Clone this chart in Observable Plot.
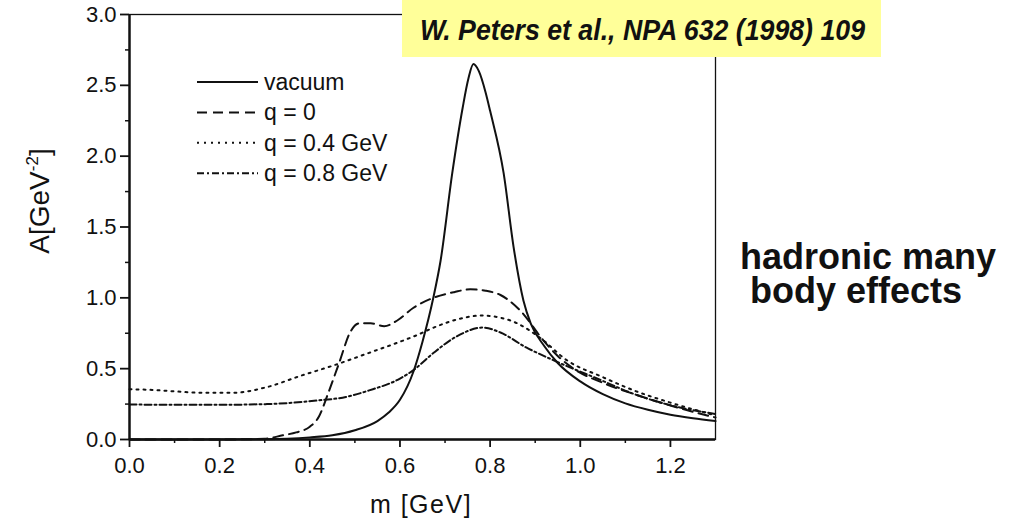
<!DOCTYPE html>
<html><head><meta charset="utf-8">
<script src="https://cdn.jsdelivr.net/npm/d3@7"></script>
<script src="https://cdn.jsdelivr.net/npm/@observablehq/plot@0.6"></script>
<style>
body{margin:0;background:#fff;}
#wrap{position:relative;width:1029px;height:524px;overflow:hidden;font-family:"Liberation Sans",Arial,sans-serif;color:#111;}
#wrap > svg{position:absolute;left:0;top:0;}
.ov{position:absolute;white-space:pre;}
</style></head>
<body><div id="wrap"></div>
<script>
// ---- data ----
const seriesNames = ["vacuum", "q = 0", "q = 0.4 GeV", "q = 0.8 GeV"];

const vacuumM = [0, 0.1, 0.2, 0.3, 0.35, 0.4, 0.45, 0.5, 0.55, 0.575, 0.6, 0.63, 0.65, 0.674, 0.69, 0.716, 0.739, 0.752, 0.763, 0.775, 0.79, 0.80, 0.83, 0.852, 0.874, 0.89, 0.92, 0.95, 1.0, 1.05, 1.1, 1.15, 1.2, 1.25, 1.3];
const vacuumA = [0, 0, 0, 0.002, 0.006, 0.015, 0.03, 0.065, 0.13, 0.19, 0.28, 0.48, 0.69, 1.0, 1.26, 1.88, 2.34, 2.55, 2.65, 2.60, 2.45, 2.32, 1.88, 1.36, 0.98, 0.82, 0.66, 0.54, 0.41, 0.32, 0.255, 0.21, 0.175, 0.15, 0.13];

const q0M = [0, 0.2, 0.3, 0.34, 0.37, 0.40, 0.42, 0.44, 0.465, 0.49, 0.51, 0.535, 0.565, 0.594, 0.63, 0.674, 0.72, 0.756, 0.79, 0.823, 0.867, 0.918, 0.95, 0.985, 1.05, 1.12, 1.2, 1.3];
const q0A = [0, 0, 0.005, 0.03, 0.05, 0.09, 0.16, 0.32, 0.54, 0.76, 0.82, 0.82, 0.80, 0.84, 0.93, 1.0, 1.04, 1.06, 1.05, 1.02, 0.91, 0.70, 0.59, 0.50, 0.40, 0.32, 0.24, 0.155];

const q04M = [0, 0.05, 0.1, 0.157, 0.23, 0.305, 0.38, 0.45, 0.53, 0.60, 0.64, 0.675, 0.73, 0.78, 0.845, 0.91, 0.97, 1.05, 1.12, 1.2, 1.3];
const q04A = [0.355, 0.35, 0.34, 0.33, 0.33, 0.37, 0.45, 0.52, 0.61, 0.69, 0.74, 0.79, 0.85, 0.875, 0.84, 0.72, 0.56, 0.44, 0.345, 0.26, 0.17];

const q08M = [0, 0.1, 0.2, 0.305, 0.415, 0.48, 0.53, 0.60, 0.63, 0.674, 0.727, 0.783, 0.823, 0.88, 0.94, 1.045, 1.12, 1.19, 1.3];
const q08A = [0.247, 0.245, 0.245, 0.25, 0.275, 0.30, 0.345, 0.43, 0.49, 0.61, 0.73, 0.79, 0.755, 0.65, 0.56, 0.42, 0.32, 0.25, 0.18];

const xTicks = [0, 0.2, 0.4, 0.6, 0.8, 1.0, 1.2];
const xMinorTicks = [0.1, 0.3, 0.5, 0.7, 0.9, 1.1];
const yTicks = [0, 0.5, 1.0, 1.5, 2.0, 2.5, 3.0];
const yMinorTicks = [0.25, 0.75, 1.25, 1.75, 2.25, 2.75];

const citation = "W. Peters et al., NPA 632 (1998) 109";
const sideNote1 = "hadronic many";
const sideNote2 = "body effects";
const xLabel = "m [GeV]";

// ---- build tables ----
const dashes = [null, "10,6", "2,5", "7,3,2,3"];
const allM = [vacuumM, q0M, q04M, q08M];
const allA = [vacuumA, q0A, q04A, q08A];
const tables = allM.map((ms, i) => ms.map((m, j) => ({m, a: allA[i][j], s: seriesNames[i]})));

const ink = "#111";
const lineMarks = tables.map((t, i) => Plot.line(t, {
  x: "m", y: "a", stroke: ink, strokeWidth: 2,
  strokeDasharray: dashes[i] || undefined, curve: "monotone-x"
}));

const chart = Plot.plot({
  width: 1029, height: 524,
  marginLeft: 129, marginRight: 314, marginTop: 14, marginBottom: 85,
  x: {domain: [0, 1.3]},
  y: {domain: [0, 3]},
  style: {fontFamily: '"Liberation Sans", Arial, sans-serif', fontSize: "22px", color: ink, background: "transparent", overflow: "visible"},
  marks: [
    Plot.frame({stroke: ink, strokeWidth: 1.3}),
    Plot.ruleX([0], {stroke: ink, strokeWidth: 2.4}),
    Plot.ruleY([0], {stroke: ink, strokeWidth: 2.4}),
    Plot.axisX({ticks: xTicks, tickSize: 8, tickPadding: 10, strokeWidth: 1.8, tickFormat: d => d.toFixed(1), label: null, fontSize: 22}),
    Plot.axisX({ticks: xMinorTicks, tickSize: 4, strokeWidth: 1.5, tickFormat: () => "", label: null}),
    Plot.axisY({ticks: yTicks, tickSize: 9, tickPadding: 4, strokeWidth: 1.8, tickFormat: d => d.toFixed(1), label: null, fontSize: 22}),
    Plot.axisY({ticks: yMinorTicks, tickSize: 4, strokeWidth: 1.5, tickFormat: () => "", label: null}),
    ...lineMarks
  ]
});

const wrap = document.getElementById("wrap");
wrap.append(chart);

// ---- legend overlay ----
const leg = d3.select(wrap).append("svg")
  .attr("width", 1029).attr("height", 524)
  .style("position", "absolute").style("left", "0px").style("top", "0px");
const rowY0 = 82, rowStep = 30.4;
seriesNames.forEach((name, i) => {
  const y = rowY0 + i * rowStep;
  leg.append("line").attr("x1", 197).attr("x2", 258).attr("y1", y).attr("y2", y)
    .attr("stroke", ink).attr("stroke-width", 2)
    .attr("stroke-dasharray", dashes[i] || null);
  leg.append("text").attr("x", 264).attr("y", y).attr("dy", "0.35em")
    .attr("font-family", '"Liberation Sans", Arial, sans-serif')
    .attr("font-size", 23).attr("fill", ink).text(name);
});

// ---- y label ----
const yl = document.createElement("div");
yl.className = "ov";
yl.style.cssText = "left:-40px;top:185px;width:160px;height:32px;line-height:32px;text-align:center;font-size:28px;transform:rotate(-90deg);";
yl.innerHTML = 'A[GeV<span style="font-size:17px;position:relative;top:-11px">-2</span>]';
wrap.append(yl);

// ---- x label ----
const xl = document.createElement("div");
xl.className = "ov";
xl.style.cssText = "left:321px;top:489px;width:200px;line-height:30px;text-align:center;font-size:25px;letter-spacing:1.5px;";
xl.textContent = xLabel;
wrap.append(xl);

// ---- citation box ----
const box = document.createElement("div");
box.className = "ov";
box.style.cssText = "left:402px;top:0px;width:479px;height:57px;background:#ffff99;";
const cit = document.createElement("span");
cit.style.cssText = "position:absolute;left:18px;top:12px;line-height:36px;font-size:30px;font-weight:bold;font-style:italic;transform-origin:0 50%;display:inline-block;";
cit.textContent = citation;
box.append(cit);
wrap.append(box);
const cw = cit.getBoundingClientRect().width;
if (cw > 0) cit.style.transform = `scaleX(${445 / cw})`;

// ---- side note (single text node, two lines) ----
const note = document.createElement("div");
note.className = "ov";
note.style.cssText = "left:740px;top:240px;line-height:34px;font-size:36px;font-weight:bold;white-space:pre;";
note.textContent = sideNote1 + "\n " + sideNote2;
wrap.append(note);
</script>
</body></html>
